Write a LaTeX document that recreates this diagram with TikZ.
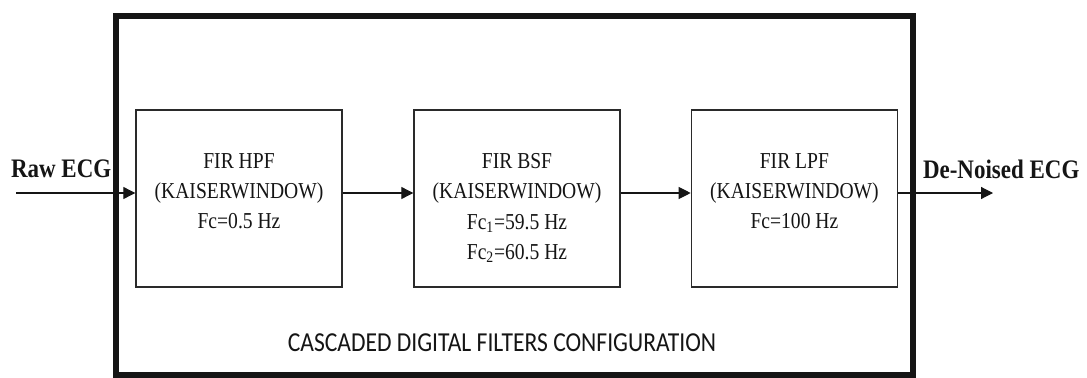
\documentclass[tikz,border=0pt]{standalone}
\usepackage{fontspec}
\setmainfont{Liberation Serif}[FakeStretch=0.86]
\newfontfamily\capfont{Carlito}[FakeStretch=0.86]
\usepackage{xcolor}
\usetikzlibrary{arrows.meta, positioning, calc}
\definecolor{Paper}{HTML}{FFFFFF}
\definecolor{Ink}{HTML}{151515}
\definecolor{Edge}{HTML}{2A2A2A}

\begin{document}
\begin{tikzpicture}[text=Ink,box/.style={draw=Edge,line width=1pt,minimum width=5.15cm,minimum height=4.425cm,inner sep=0pt},boxtext/.style={anchor=north,align=center,inner sep=0pt,font=\fontsize{16.2}{21.5}\selectfont},sig/.style={font=\bfseries\fontsize{19}{22}\selectfont,inner sep=0pt},arrow/.style={-{Triangle[length=3mm,width=3mm]},line width=0.8pt,draw=Ink}]
\fill[Paper] (0,0) rectangle (27.175,9.425);
\draw[Ink,line width=4.4pt] (2.9,0.06) rectangle (22.825,9.025);
\node[box] (hpf) at (5.975,4.4625){};
\node[box] (bsf) at (12.925,4.4625){};
\node[box] (lpf) at (19.86,4.4625){};
\node[boxtext] (hpftxt) at ($(hpf.north)+(0,-1.1)$){FIR HPF\\(KAISERWINDOW)\\Fc=0.5 Hz};
\node[boxtext] (bsftxt) at ($(bsf.north)+(0,-1.1)$){FIR BSF\\(KAISERWINDOW)\\Fc\textsubscript{1}=59.5 Hz\\Fc\textsubscript{2}=60.5 Hz};
\node[boxtext] (lpftxt) at ($(lpf.north)+(0,-1.1)$){FIR LPF\\(KAISERWINDOW)\\Fc=100 Hz};
\coordinate (in) at (0.4,4.6);\coordinate (out) at (24.825,4.6);
\draw[arrow] (in) -- (hpf.west |- in);\draw[arrow] (hpf.east |- in) -- (bsf.west |- in);\draw[arrow] (bsf.east |- in) -- (lpf.west |- in);\draw[arrow] (lpf.east |- in) -- (out);
\node[sig] (raw) at (1.53,5.2){Raw ECG};
\node[sig] (clean) at (25.03,5.2){De-Noised ECG};
\node[font=\capfont\fontsize{19.5}{22}\selectfont,inner sep=0pt] (cap) at (12.55,0.85){CASCADED DIGITAL FILTERS CONFIGURATION};
\end{tikzpicture}
\end{document}
